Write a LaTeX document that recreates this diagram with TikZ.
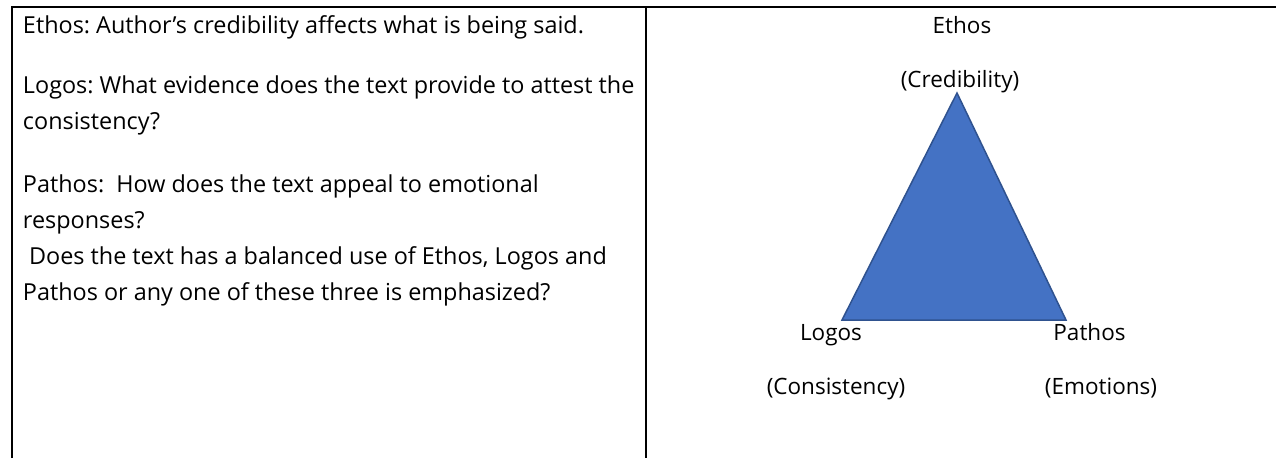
\documentclass[tikz,border=0pt]{standalone}
\usepackage{fontspec}
\usepackage{xcolor}
\setmainfont{Open Sans}
\frenchspacing
\definecolor{triblue}{HTML}{4472C4}
\definecolor{triedge}{HTML}{2F528F}

\begin{document}
\begin{tikzpicture}[x=1pt,y=-1pt,line width=2pt,
  cell text/.style={anchor=base west,align=left,inner sep=0pt,font=\fontsize{23.4}{36}\selectfont},
  label node/.style={anchor=base,inner sep=0pt,font=\fontsize{22.5}{30}\selectfont}]
  \useasboundingbox (0,0) rectangle (1276,458);

  % table rules
  \draw (11.7,458) |- (1276,6.7);
  \draw (646,6.7) -- (646,458);

  % left cell (base = last line)
  \node[cell text] (ethos) at (22,33) {Ethos: Author’s credibility affects what is being said.};
  \node[cell text] (logos) at (22,129) {Logos: What evidence does the text provide to attest the\\consistency?};
  \node[cell text] (pathos) at (22,300) {Pathos:\ \ How does the text appeal to emotional\\responses?\\\hspace*{0.26em}Does the text has a balanced use of Ethos, Logos and\\Pathos or any one of these three is emphasized?};

  % triangle
  \coordinate (top) at (957,93);
  \coordinate (left) at (842,320);
  \coordinate (right) at (1066,320);
  \filldraw[fill=triblue,draw=triedge,line width=1.5pt] (top) -- (left) -- (right) -- cycle;

  \node[label node] (1) at (962,33.5) {Ethos};
  \node[label node] (2) at (960,87.5) {(Credibility)};
  \node[label node] (3) at (831,340.5) {Logos};
  \node[label node] (4) at (1089.5,340.5) {Pathos};
  \node[label node] (5) at (836,394) {(Consistency)};
  \node[label node] (6) at (1101,394) {(Emotions)};
\end{tikzpicture}
\end{document}
